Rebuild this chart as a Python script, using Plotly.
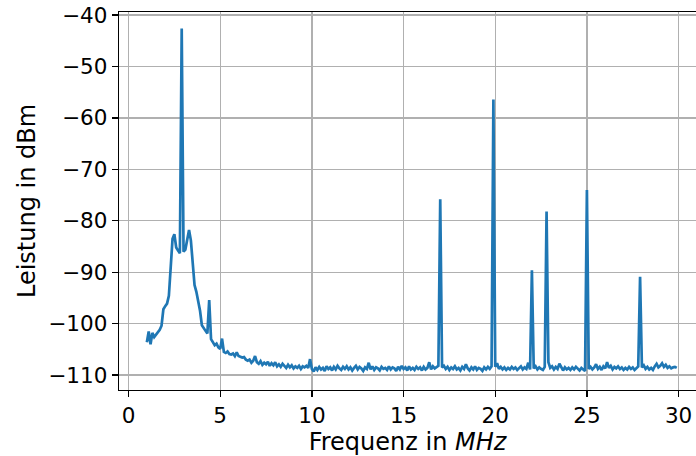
import numpy as np
import plotly.graph_objects as go

# Power spectrum in dBm, sampled every 0.1 MHz starting at 1.0 MHz
f_start = 1.0
f_step = 0.1
power_dbm = [
    # 1.0 - 1.9
    -103.6, -101.5, -104.0, -101.8, -102.6, -102.2, -101.7, -101.2, -100.4, -97.2,
    # 2.0 - 2.9
    -96.6, -96.1, -94.6, -89.0, -83.5, -82.6, -85.2, -85.8, -86.3, -42.6,
    # 3.0 - 3.9
    -86.0, -85.6, -83.5, -81.8, -83.8, -88.5, -92.5, -93.8, -95.5, -97.5,
    # 4.0 - 4.9
    -100.3, -101.0, -101.4, -101.9, -95.4, -103.0, -103.6, -104.2, -103.9, -104.6,
    # 5.0 - 5.9
    -104.9, -102.9, -105.5, -105.7, -105.4, -105.9, -106.0, -105.8, -106.3, -105.6,
    # 6.0 - 6.9
    -106.3, -106.4, -106.6, -106.5, -107.0, -107.2, -107.0, -107.6, -107.2, -106.3,
    # 7.0 - 7.9
    -107.5, -107.8, -107.3, -108.0, -107.6, -107.9, -107.4, -108.2, -107.7, -108.1,
    # 8.0 - 8.9
    -107.5, -108.3, -107.9, -108.4, -107.8, -108.2, -108.6, -108.0, -108.5, -108.1,
    # 9.0 - 9.9
    -108.7, -108.3, -108.6, -108.2, -108.8, -108.3, -108.5, -108.2, -108.6, -106.9,
    # 10.0 - 10.9
    -108.8, -109.3, -108.5, -109.0, -108.4, -108.9, -108.6, -109.2, -108.3, -108.8,
    # 11.0 - 11.9
    -108.5, -109.1, -108.4, -108.9, -108.2, -108.7, -109.0, -108.4, -108.8, -108.3,
    # 12.0 - 12.9
    -108.9, -108.5, -109.1, -108.6, -108.2, -108.9, -108.4, -108.7, -109.2, -108.5,
    # 13.0 - 13.9
    -108.8, -107.6, -108.9, -108.3, -109.0, -108.5, -108.7, -109.1, -108.4, -108.8,
    # 14.0 - 14.9
    -108.6, -109.0, -108.3, -108.9, -108.5, -108.7, -109.2, -108.4, -108.9, -108.2,
    # 15.0 - 15.9
    -108.8, -108.5, -109.1, -108.3, -108.9, -108.6, -109.0, -108.4, -108.8, -108.5,
    # 16.0 - 16.9
    -109.1, -108.4, -108.9, -108.6, -107.5, -108.9, -108.3, -108.7, -108.4, -108.2,
    # 17.0 - 17.9
    -75.8, -108.5, -108.2, -108.8, -108.4, -109.0, -108.5, -108.8, -108.3, -108.9,
    # 18.0 - 18.9
    -108.6, -109.1, -108.4, -108.8, -107.9, -108.7, -109.1, -108.5, -108.9, -108.3,
    # 19.0 - 19.9
    -109.0, -108.6, -108.8, -109.2, -108.5, -108.9, -108.4, -108.8, -108.3, -56.4,
    # 20.0 - 20.9
    -108.4, -107.7, -108.8, -108.4, -108.9, -108.5, -109.0, -108.6, -108.9, -108.4,
    # 21.0 - 21.9
    -108.8, -108.5, -109.0, -108.6, -108.3, -108.9, -108.5, -108.8, -107.6, -108.9,
    # 22.0 - 22.9
    -89.6, -108.7, -108.3, -108.9, -108.5, -108.8, -109.0, -108.4, -78.2, -107.5,
    # 23.0 - 23.9
    -108.6, -108.3, -108.9, -108.4, -108.8, -107.8, -108.6, -109.1, -108.5, -108.9,
    # 24.0 - 24.9
    -108.6, -109.0, -108.5, -108.9, -108.4, -108.7, -109.1, -108.6, -108.9, -109.2,
    # 25.0 - 25.9
    -74.0, -108.8, -108.4, -108.9, -108.5, -107.9, -108.8, -108.4, -109.0, -108.3,
    # 26.0 - 26.9
    -108.7, -107.5, -108.6, -108.2, -108.9, -108.4, -108.7, -108.3, -108.8, -108.5,
    # 27.0 - 27.9
    -109.0, -108.6, -108.9, -108.4, -108.8, -108.5, -109.0, -108.6, -108.3, -90.9,
    # 28.0 - 28.9
    -108.5, -108.1, -108.8, -108.4, -108.9, -108.6, -109.0, -108.3, -107.8, -108.5,
    # 29.0 - 29.9
    -108.2, -107.7, -108.4, -108.0, -108.6, -108.3, -108.7, -108.5, -108.4, -108.6,
]
freq_mhz = np.round(f_start + f_step * np.arange(len(power_dbm)), 2)

x_ticks = [0, 5, 10, 15, 20, 25, 30]
y_ticks = [-110, -100, -90, -80, -70, -60, -50, -40]
y_ticklabels = ["\u2212" + str(abs(v)) for v in y_ticks]

FONT = "DejaVu Sans"
TICK_SIZE = 21.5
TITLE_SIZE = 24

fig = go.Figure()
fig.add_trace(go.Scatter(
    x=freq_mhz, y=power_dbm, mode="lines",
    line=dict(color="#1f77b4", width=2.7),
    hoverinfo="skip",
))

fig.update_layout(
    width=696, height=456,
    margin=dict(l=119, r=0, t=12, b=66),
    paper_bgcolor="white", plot_bgcolor="white",
    showlegend=False,
    font=dict(family=FONT, size=TICK_SIZE, color="black"),
)
fig.update_xaxes(
    range=[-0.52, 30.95],
    automargin=False,
    tickvals=x_ticks, ticktext=[str(v) for v in x_ticks],
    ticks="outside", ticklen=6, tickwidth=1.3, tickcolor="black",
    showline=True, linecolor="black", linewidth=1.3, mirror=True,
    showgrid=True, gridcolor="#b0b0b0", gridwidth=1.3,
    zeroline=False, ticklabeloverflow="allow",
    tickfont=dict(family=FONT, size=TICK_SIZE, color="black"),
    title=dict(text="Frequenz in <i>MHz</i>", font=dict(family=FONT, size=TITLE_SIZE, color="black"), standoff=4),
)
fig.update_yaxes(
    range=[-112.9, -39.4],
    automargin=False,
    tickvals=y_ticks, ticktext=y_ticklabels,
    ticks="outside", ticklen=6, tickwidth=1.3, tickcolor="black",
    showline=True, linecolor="black", linewidth=1.3, mirror=False,
    showgrid=True, gridcolor="#b0b0b0", gridwidth=1.3,
    zeroline=False, ticklabeloverflow="allow",
    tickfont=dict(family=FONT, size=TICK_SIZE, color="black"),
    title=dict(text="Leistung in dBm", font=dict(family=FONT, size=TITLE_SIZE, color="black"), standoff=6),
)

# remove the default 8 px page margin so the figure fills the window exactly
fig.write_html(
    "out.html",
    config={"displayModeBar": False, "staticPlot": True},
    post_script="document.body.style.margin='0px';document.body.style.overflow='hidden';",
)
